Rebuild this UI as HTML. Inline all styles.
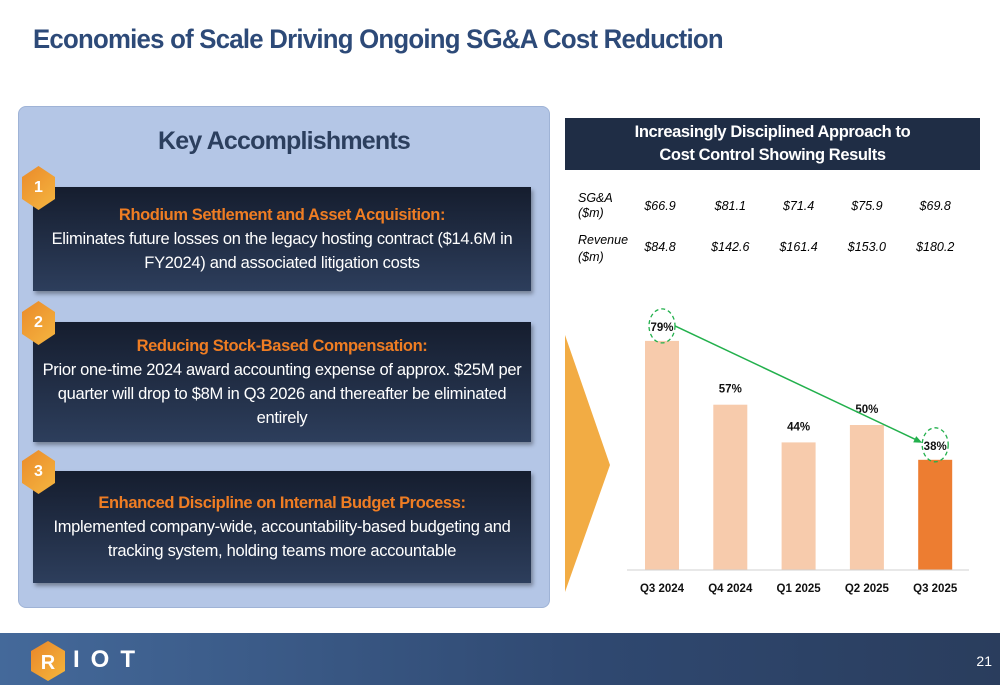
<!DOCTYPE html>
<html><head><meta charset="utf-8"><style>
body{margin:0;width:1000px;height:685px;position:relative;background:#fff;font-family:"Liberation Sans",sans-serif;overflow:hidden}
.abs{position:absolute}
.title{left:33px;top:24px;font-size:27px;font-weight:bold;color:#2d4a78;letter-spacing:-0.8px;transform:scaleX(0.955);transform-origin:left top;white-space:nowrap}
.panel{left:18px;top:106px;width:532px;height:502px;background:#b4c6e6;border-radius:8px;border:1px solid #9fb3d6;box-sizing:border-box}
.ka{left:18px;width:532px;top:127px;text-align:center;font-size:25px;font-weight:bold;color:#2c3f5e;letter-spacing:-0.8px}
.box{left:33px;width:498px;background:linear-gradient(180deg,#151d2e,#2d3e5c);box-shadow:2px 3px 4px rgba(0,0,0,.35);color:#fff;text-align:center;font-size:16.5px;line-height:24px;letter-spacing:-0.3px;display:flex;flex-direction:column;justify-content:center}
.box b{color:#ef7d23;letter-spacing:-0.4px}
.hex{width:33px;height:44px;clip-path:polygon(50% 0,100% 25%,100% 75%,50% 100%,0 75%,0 25%);background:linear-gradient(135deg,#ea8a2a,#f5b640);color:#fff;font-weight:bold;font-size:16px;text-align:center;line-height:44px}
.hdr{left:565px;top:118px;width:415px;height:52px;background:#1f2d45;color:#fff;text-align:center;font-weight:bold;font-size:16.5px;line-height:23px;padding-top:3px;box-sizing:border-box;letter-spacing:-0.4px}
.tbl{font-size:12.5px;font-style:italic;color:#222}
.footer{left:0;top:633px;width:1000px;height:52px;background:linear-gradient(90deg,#44699a,#2f4870 60%,#2a3d5d)}
</style></head><body>
<div class="abs title">Economies of Scale Driving Ongoing SG&amp;A Cost Reduction</div>
<div class="abs panel"></div>
<div class="abs ka">Key Accomplishments</div>

<div class="abs box" style="top:187px;height:104px"><b>Rhodium Settlement and Asset Acquisition:</b>Eliminates future losses on the legacy hosting contract ($14.6M in<br>FY2024) and associated litigation costs</div>
<div class="abs hex" style="left:22px;top:166px">1</div>
<div class="abs box" style="top:322px;height:120px"><b>Reducing Stock-Based Compensation:</b>Prior one-time 2024 award accounting expense of approx. $25M per<br>quarter will drop to $8M in Q3 2026 and thereafter be eliminated<br>entirely</div>
<div class="abs hex" style="left:22px;top:301px">2</div>
<div class="abs box" style="top:471px;height:112px"><b>Enhanced Discipline on Internal Budget Process:</b>Implemented company-wide, accountability-based budgeting and<br>tracking system, holding teams more accountable</div>
<div class="abs hex" style="left:22px;top:450px">3</div>

<div class="abs hdr">Increasingly Disciplined Approach to<br>Cost Control Showing Results</div>

<svg class="abs" style="left:0;top:0" width="1000" height="633">
<polygon points="565,335 610,465 565,592" fill="#f2ac44"/>
<g id="tbl"></g>
<g id="bars"></g>
</svg>

<div class="abs footer">
<svg class="abs" style="left:31px;top:8px" width="34" height="40"><defs><linearGradient id="lg" x1="0" y1="0" x2="1" y2="1"><stop offset="0" stop-color="#e8852a"/><stop offset="1" stop-color="#f6b83c"/></linearGradient></defs><polygon points="17,0 34,10 34,30 17,40 0,30 0,10" fill="url(#lg)"/><text x="17" y="28" text-anchor="middle" font-size="20" font-weight="bold" fill="#fff" font-family="Liberation Sans">R</text></svg>
<div class="abs" style="left:73px;top:13px;color:#fff;font-weight:bold;font-size:24px;letter-spacing:11px">IOT</div>
<div class="abs" style="right:8px;top:20px;color:#fff;font-size:14px">21</div>
</div>

<script>
const categories=["Q3 2024","Q4 2024","Q1 2025","Q2 2025","Q3 2025"];
const ratios=[79,57,44,50,38];
const sgaValues=["$66.9","$81.1","$71.4","$75.9","$69.8"];
const revenueValues=["$84.8","$142.6","$161.4","$153.0","$180.2"];
const NS="http://www.w3.org/2000/svg";
const x0=662,step=68.3,base=570,ppu=2.9,bw=34;
const xs=i=>x0+i*step, ys=v=>base-v*ppu;
function mk(t,a,p){const e=document.createElementNS(NS,t);for(const k in a)e.setAttribute(k,a[k]);p.appendChild(e);return e;}
const tb=document.getElementById('tbl'),bg=document.getElementById('bars');
const l1=mk('text',{x:578,y:202,class:'tbl'},tb);l1.textContent='SG&A';


mk('text',{x:578,y:217,class:'tbl'},tb).textContent='($m)';
const l2=mk('text',{x:578,y:244,class:'tbl'},tb);l2.textContent='Revenue';


mk('text',{x:578,y:261,class:'tbl'},tb).textContent='($m)';
categories.forEach((c,i)=>{
 const cx=xs(i)+ (i===0?-2:0);
 const s=mk('text',{x:cx,y:210,'text-anchor':'middle',class:'tbl'},tb);s.textContent=sgaValues[i];
 
 
 const r=mk('text',{x:cx,y:251,'text-anchor':'middle',class:'tbl'},tb);r.textContent=revenueValues[i];
 
 
 const b=mk('rect',{x:xs(i)-bw/2,y:ys(ratios[i]),width:bw,height:ratios[i]*ppu,fill:i===4?'#ed7d31':'#f7cbac'},bg);
 
 
 const lb=mk('text',{x:xs(i),y:ys(ratios[i])-(i===0||i===4?10:12),'text-anchor':'middle','font-size':11.5,'font-weight':'bold',fill:'#111','font-family':'Liberation Sans'},bg);lb.textContent=ratios[i]+'%';
 
 
 const xl=mk('text',{x:xs(i),y:592,'text-anchor':'middle','font-size':11.5,'font-weight':'bold',fill:'#111','font-family':'Liberation Sans'},bg);xl.textContent=c;
 
 
});
const ax=mk('line',{x1:627,y1:base,x2:969,y2:base,stroke:'#d0d0d0','stroke-width':1},bg);


[0,4].forEach(i=>{const c=mk('ellipse',{cx:xs(i),cy:ys(ratios[i])-15,rx:13,ry:17,fill:'none',stroke:'#22b04c','stroke-width':1.3,'stroke-dasharray':'4,3'},bg);
 
 });
const x1=xs(0)+13,y1=ys(ratios[0])-15,x2=xs(4)-13,y2=ys(ratios[4])-17;
const tl=mk('line',{x1,y1,x2:x2-6,y2:y2-3,stroke:'#22b04c','stroke-width':1.5},bg);


const ang=Math.atan2(y2-y1,x2-x1),L=9;
mk('polygon',{points:`${x2},${y2} ${x2-L*Math.cos(ang-0.4)},${y2-L*Math.sin(ang-0.4)} ${x2-L*Math.cos(ang+0.4)},${y2-L*Math.sin(ang+0.4)}`,fill:'#22b04c'},bg);
</script>
</body></html>
